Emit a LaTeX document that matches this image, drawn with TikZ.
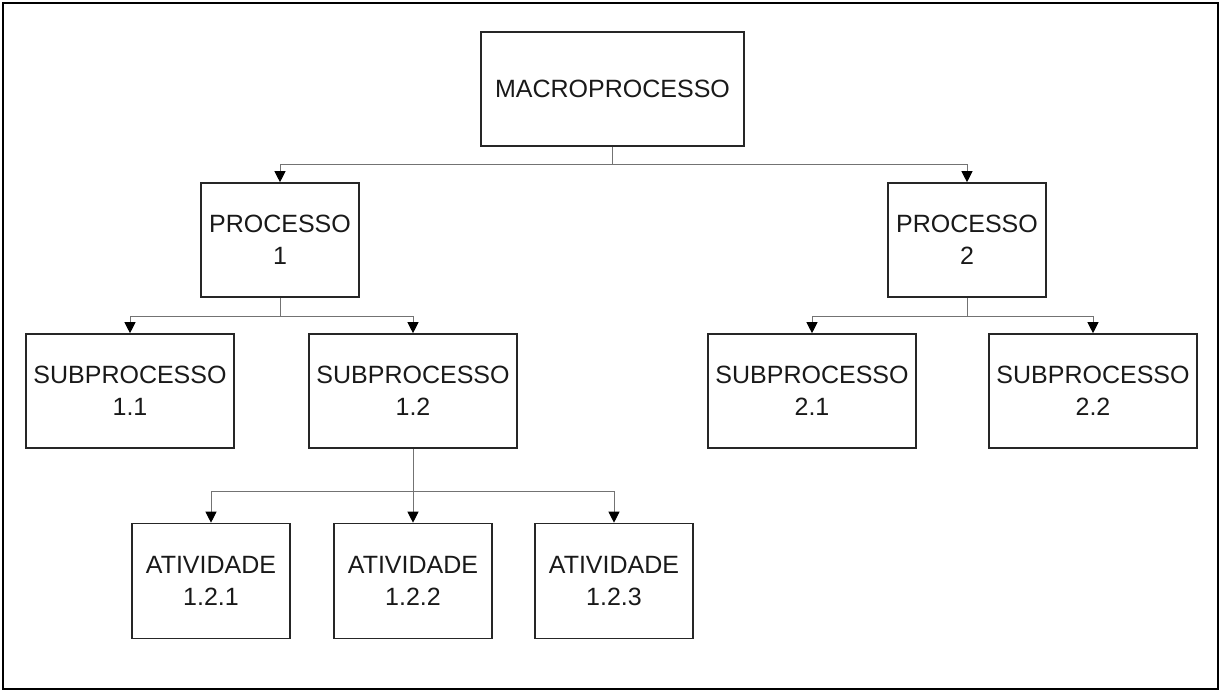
\documentclass[tikz,border=0pt]{standalone}
\usepackage{fontspec}
\setmainfont{Liberation Sans}
\usetikzlibrary{arrows.meta}
\begin{document}
\begin{tikzpicture}[x=1pt,y=-1pt,
  box/.style={draw=black!85,line width=1.6pt,align=center,inner sep=0pt,
    font=\fontsize{25}{32}\selectfont,text=black!90},
  conn/.style={draw=black!55,line width=1pt,-{Triangle[length=11pt,width=11pt,fill=black,color=black]}},
  plain/.style={draw=black!55,line width=1pt}]
\useasboundingbox (0,0) rectangle (1221,692);
\draw[line width=2pt] (3,3) rectangle (1218,689);
% nodes
\node[box,minimum width=263pt,minimum height=114pt] (macro) at (612.5,89) {MACROPROCESSO};
\node[box,minimum width=158pt,minimum height=114pt] (p1) at (280,240) {PROCESSO\\1};
\node[box,minimum width=158pt,minimum height=114pt] (p2) at (967,240) {PROCESSO\\2};
\node[box,minimum width=208pt,minimum height=114pt] (s11) at (130,391) {SUBPROCESSO\\1.1};
\node[box,minimum width=208pt,minimum height=114pt] (s12) at (413,391) {SUBPROCESSO\\1.2};
\node[box,minimum width=208pt,minimum height=114pt] (s21) at (812,391) {SUBPROCESSO\\2.1};
\node[box,minimum width=208pt,minimum height=114pt] (s22) at (1093,391) {SUBPROCESSO\\2.2};
\node[box,minimum width=158pt,minimum height=115pt] (a1) at (211,581) {ATIVIDADE\\1.2.1};
\node[box,minimum width=158pt,minimum height=115pt] (a2) at (413,581) {ATIVIDADE\\1.2.2};
\node[box,minimum width=158pt,minimum height=115pt] (a3) at (614,581) {ATIVIDADE\\1.2.3};
% bus coordinates
\coordinate (b0) at (612.5,165);
\coordinate (b1) at (280,317);
\coordinate (b2) at (967,317);
\coordinate (b3) at (413,491);
% connectors
\draw[plain] (macro.south) -- (b0);
\draw[conn] (b0) -| (p1.north);
\draw[conn] (b0) -| (p2.north);
\draw[plain] (p1.south) -- (b1);
\draw[conn] (b1) -| (s11.north);
\draw[conn] (b1) -| (s12.north);
\draw[plain] (p2.south) -- (b2);
\draw[conn] (b2) -| (s21.north);
\draw[conn] (b2) -| (s22.north);
\draw[plain] (s12.south) -- (b3);
\draw[conn] (b3) -| (a1.north);
\draw[conn] (b3) -- (a2.north);
\draw[conn] (b3) -| (a3.north);
\end{tikzpicture}
\end{document}
